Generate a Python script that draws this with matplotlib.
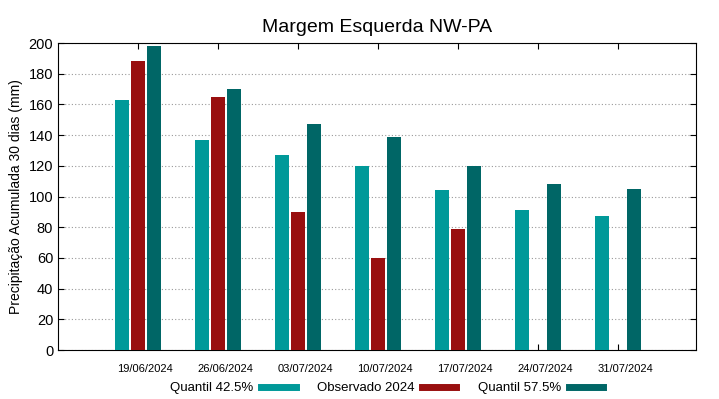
import numpy as np
import matplotlib.pyplot as plt
from matplotlib.lines import Line2D

plt.rcParams['font.family'] = ['Liberation Sans', 'DejaVu Sans']

# Dados
datas = ['19/06/2024', '26/06/2024', '03/07/2024', '10/07/2024',
         '17/07/2024', '24/07/2024', '31/07/2024']
quantil_425 = [163, 137, 127, 120, 104, 91, 87]
observado = [188, 165, 90, 60, 79, np.nan, np.nan]
quantil_575 = [198, 170, 147, 139, 120, 108, 105]

cor_q425 = '#009999'
cor_obs = '#990f0f'
cor_q575 = '#006666'

fig = plt.figure(figsize=(7.19, 3.99), dpi=100)
ax = fig.add_axes([0.0807, 0.1228, 0.8873, 0.7694])

x = np.arange(len(datas))
w = 0.17
ax.bar(x - 0.2, quantil_425, w, color=cor_q425, zorder=3)
ax.bar(x, observado, w, color=cor_obs, zorder=3)
ax.bar(x + 0.2, quantil_575, w, color=cor_q575, zorder=3)

ax.set_xlim(-1, 6.975)
ax.set_ylim(0, 200)
ax.set_yticks(range(0, 201, 20))

# marcas nos centros dos grupos, rotulos levemente deslocados (estilo gnuplot)
ax.set_xticks(x)
ax.set_xticklabels([])
ax.set_xticks(x + 0.0875, minor=True)
ax.set_xticklabels(datas, minor=True, fontsize=8)
ax.tick_params(axis='x', which='major', direction='in', top=True, length=4)
ax.tick_params(axis='x', which='minor', length=0, pad=10)
ax.tick_params(axis='y', labelsize=10.5, direction='in', right=True, length=4)
ax.yaxis.grid(True, linestyle=(0, (1, 2)), color='#999999', linewidth=0.8, zorder=0)

ax.set_ylabel('Precipitação Acumulada 30 dias (mm)', fontsize=10)
ax.set_title('Margem Esquerda NW-PA', fontsize=14, pad=8)

# Legenda
handles = [Line2D([], [], color=c, linewidth=5) for c in (cor_q425, cor_obs, cor_q575)]
ax.legend(handles, ['Quantil 42.5%', 'Observado 2024', 'Quantil 57.5%'],
          loc='center', bbox_to_anchor=(0.515, -0.125), ncol=3, frameon=False,
          markerfirst=False, fontsize=9.5, handlelength=2.6, columnspacing=1.6,
          handletextpad=0.6)

fig.savefig('out.png', dpi=100)
